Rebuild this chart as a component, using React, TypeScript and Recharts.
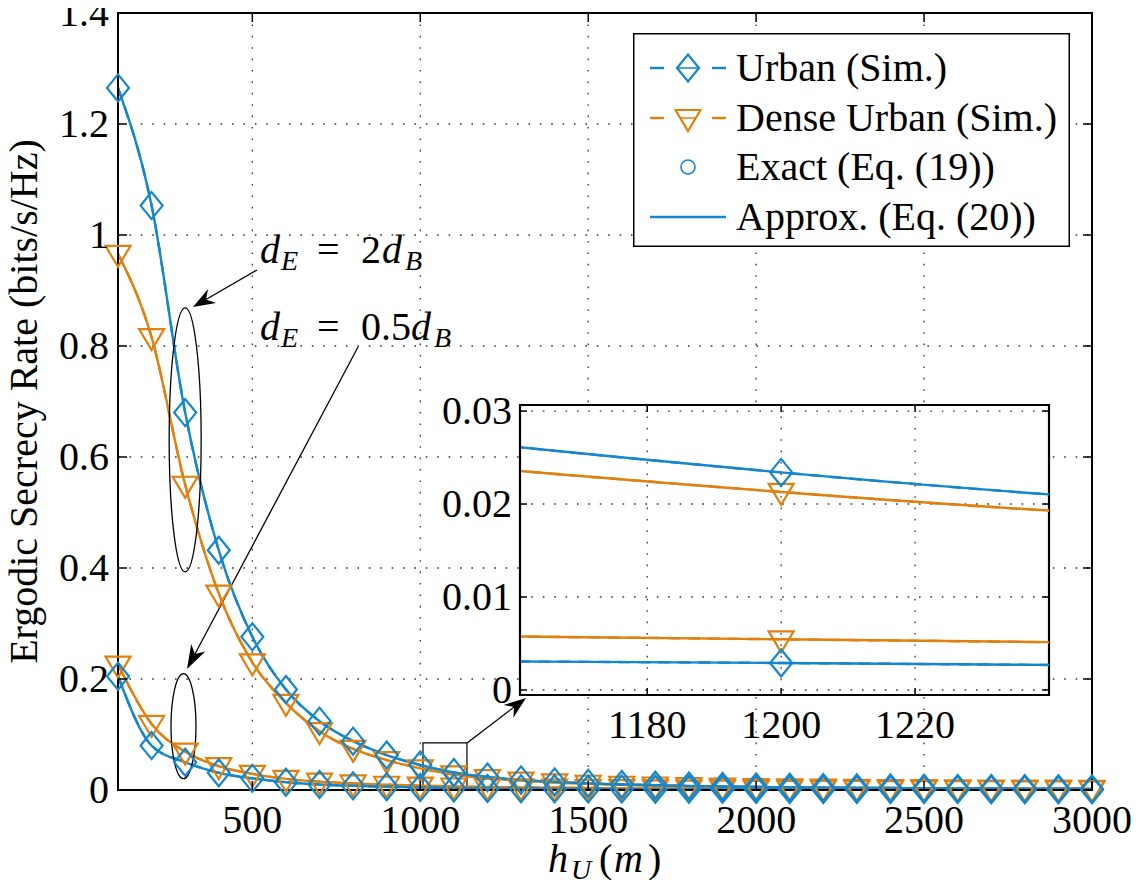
import React from 'react';
import {
  LineChart,
  Line,
  XAxis,
  YAxis,
  CartesianGrid,
  ReferenceArea,
  ReferenceDot,
  Legend,
  Customized,
} from 'recharts';

// ---- data -------------------------------------------------------------
const heights = [
  100, 200, 300, 400, 500, 600, 700, 800, 900, 1000,
  1100, 1200, 1300, 1400, 1500, 1600, 1700, 1800, 1900, 2000,
  2100, 2200, 2300, 2400, 2500, 2600, 2700, 2800, 2900, 3000,
];

// d_E = 2 d_B
const urbanFar = [
  1.265, 1.053, 0.68, 0.432, 0.276, 0.181, 0.124, 0.088, 0.063, 0.045,
  0.0315, 0.0234, 0.0182, 0.0146, 0.012, 0.01, 0.0085, 0.0073, 0.0063, 0.0055,
  0.0049, 0.0043, 0.0039, 0.0035, 0.0032, 0.0029, 0.0027, 0.0025, 0.0023, 0.0021,
];
const denseFar = [
  0.966, 0.816, 0.55, 0.354, 0.23, 0.157, 0.106, 0.074, 0.054, 0.039,
  0.028, 0.0213, 0.0168, 0.0136, 0.0113, 0.0095, 0.0081, 0.007, 0.0061, 0.0054,
  0.0048, 0.0043, 0.0039, 0.0035, 0.0032, 0.0029, 0.0027, 0.0025, 0.0023, 0.0021,
];

// d_E = 0.5 d_B
const urbanNear = [
  0.205, 0.08, 0.05, 0.031, 0.021, 0.014, 0.01, 0.0075, 0.0058, 0.0046,
  0.0034, 0.0029, 0.0024, 0.0021, 0.0018, 0.0016, 0.0014, 0.0013, 0.0012, 0.0011,
  0.001, 0.0009, 0.00085, 0.0008, 0.00075, 0.0007, 0.00065, 0.0006, 0.00057, 0.00054,
];
const denseNear = [
  0.226, 0.119, 0.069, 0.043, 0.029, 0.02, 0.015, 0.0118, 0.0095, 0.0079,
  0.0063, 0.00545, 0.0047, 0.0041, 0.0036, 0.0032, 0.0029, 0.0026, 0.0024, 0.0022,
  0.002, 0.0019, 0.0018, 0.0017, 0.0016, 0.0015, 0.0014, 0.0013, 0.00125, 0.0012,
];

const xTicks = [500, 1000, 1500, 2000, 2500, 3000];
const yTicks = [0, 0.2, 0.4, 0.6, 0.8, 1, 1.2, 1.4];
const yTickLabels = ['0', '0.2', '0.4', '0.6', '0.8', '1', '1.2', '1.4'];

const insetXTicks = [1180, 1200, 1220];
const insetYTicks = [0, 0.01, 0.02, 0.03];
const insetYTickLabels = ['0', '0.01', '0.02', '0.03'];
const insetXDomain = [1161, 1240];
const insetYDomain = [-0.00054, 0.03065];

const legendLabels = ['Urban (Sim.)', 'Dense Urban (Sim.)', 'Exact (Eq. (19))', 'Approx. (Eq. (20))'];

const rows = heights.map((h, i) => ({
  h,
  urbanFar: urbanFar[i],
  denseFar: denseFar[i],
  urbanNear: urbanNear[i],
  denseNear: denseNear[i],
}));

// ---- styling ----------------------------------------------------------
const FONT_CSS = `
@font-face { font-family: 'PlotSerif'; font-style: normal; font-weight: 400;
  src: local('Liberation Serif'), local('LiberationSerif'), local('LiberationSerif-Regular'); }
@font-face { font-family: 'PlotSerif'; font-style: italic; font-weight: 400;
  src: local('Liberation Serif Italic'), local('LiberationSerif-Italic'); }
.plot-root, .plot-root text, .plot-root tspan { font-family: 'Liberation Serif', PlotSerif, Tinos, 'Times New Roman', serif; }
`;
const FONT = "'Liberation Serif', PlotSerif, Tinos, 'Times New Roman', serif";
const FS = 40;
const SUB = 28;
const txt = { fontFamily: FONT, fontSize: FS } as React.CSSProperties;
const BLUE = '#1386cc';
const ORANGE = '#e0800f';
const LINE_W = 2.4;
const MARK_W = 2.2;

// main chart geometry (page pixels)
const W = 1147;
const H = 888;
const MAIN = { left: 118, right: 1092, top: 13, bottom: 790 };
// inset chart geometry (local pixels of the inset svg)
const INSET_POS = { left: 420, top: 380, width: 640, height: 375 };
const INSET = { left: 100, right: 629, top: 25, bottom: 315 };

const DIA_HW = 11;
const DIA_HH = 13.5;
const TRI_HW = 12.5;
const TRI_UP = 8;
const TRI_DOWN = 13;

function diamondPath(cx: number, cy: number) {
  return `M${cx},${cy - DIA_HH} L${cx + DIA_HW},${cy} L${cx},${cy + DIA_HH} L${cx - DIA_HW},${cy} Z`;
}
function trianglePath(cx: number, cy: number) {
  return `M${cx - TRI_HW},${cy - TRI_UP} L${cx + TRI_HW},${cy - TRI_UP} L${cx},${cy + TRI_DOWN} Z`;
}

const renderDiamond = (p: any) => {
  if (p.cx == null || p.cy == null) return <g key={`dd-${p.index}`} />;
  return (
    <path key={`dd-${p.index}`} d={diamondPath(p.cx, p.cy)} fill="none" stroke={BLUE} strokeWidth={MARK_W} />
  );
};
const renderTriangle = (p: any) => {
  if (p.cx == null || p.cy == null) return <g key={`tt-${p.index}`} />;
  return (
    <path key={`tt-${p.index}`} d={trianglePath(p.cx, p.cy)} fill="none" stroke={ORANGE} strokeWidth={MARK_W} />
  );
};

// ---- axis ticks (ticks point inward, on all four sides) ----
const MainXTick = (props: any) => {
  const { x, payload } = props;
  const t = 9;
  return (
    <g>
      <line x1={x} x2={x} y1={MAIN.bottom} y2={MAIN.bottom - t} stroke="#000" strokeWidth={1.5} />
      <line x1={x} x2={x} y1={MAIN.top} y2={MAIN.top + t} stroke="#000" strokeWidth={1.5} />
      <text x={x} y={MAIN.bottom + 43} textAnchor="middle" style={txt} fill="#000">
        {payload.value}
      </text>
    </g>
  );
};

const MainYTick = (props: any) => {
  const { y, payload } = props;
  const t = 9;
  const label = yTickLabels[yTicks.indexOf(payload.value)];
  return (
    <g>
      <line x1={MAIN.left} x2={MAIN.left + t} y1={y} y2={y} stroke="#000" strokeWidth={1.5} />
      <line x1={MAIN.right} x2={MAIN.right - t} y1={y} y2={y} stroke="#000" strokeWidth={1.5} />
      <text x={MAIN.left - 9} y={y + 13} textAnchor="end" style={txt} fill="#000">
        {label}
      </text>
    </g>
  );
};

const InsetXTick = (props: any) => {
  const { x, payload } = props;
  const t = 7;
  return (
    <g>
      <line x1={x} x2={x} y1={INSET.bottom} y2={INSET.bottom - t} stroke="#000" strokeWidth={1.5} />
      <line x1={x} x2={x} y1={INSET.top} y2={INSET.top + t} stroke="#000" strokeWidth={1.5} />
      <text x={x} y={INSET.bottom + 43} textAnchor="middle" style={txt} fill="#000">
        {payload.value}
      </text>
    </g>
  );
};

const InsetYTick = (props: any) => {
  const { y, payload } = props;
  const t = 7;
  const label = insetYTickLabels[insetYTicks.indexOf(payload.value)];
  return (
    <g>
      <line x1={INSET.left} x2={INSET.left + t} y1={y} y2={y} stroke="#000" strokeWidth={1.5} />
      <line x1={INSET.right} x2={INSET.right - t} y1={y} y2={y} stroke="#000" strokeWidth={1.5} />
      <text x={INSET.left - 8} y={y + 13} textAnchor="end" style={txt} fill="#000">
        {label}
      </text>
    </g>
  );
};

// ---- annotations --------------------------------------------------------
function Arrow({ x0, y0, x1, y1, L = 22, Wd = 8 }: any) {
  const dx = x1 - x0;
  const dy = y1 - y0;
  const len = Math.hypot(dx, dy);
  const ux = dx / len;
  const uy = dy / len;
  const nx = -uy;
  const ny = ux;
  const N = 7;
  const bx = x1 - ux * L;
  const by = y1 - uy * L;
  const notchX = x1 - ux * (L - N);
  const notchY = y1 - uy * (L - N);
  const pts = [
    [x1, y1],
    [bx + nx * Wd, by + ny * Wd],
    [notchX, notchY],
    [bx - nx * Wd, by - ny * Wd],
  ]
    .map((p) => p.join(','))
    .join(' ');
  return (
    <g>
      <line x1={x0} y1={y0} x2={notchX} y2={notchY} stroke="#000" strokeWidth={1.3} />
      <polygon points={pts} fill="#000" />
    </g>
  );
}

// one <text> per label; pieces are tspans: [text, dx, italic, subscript]
function MathLabel({ x, y, parts }: any) {
  return (
    <text fill="#000" style={txt}>
      {parts.map((p: any, i: number) => (
        <tspan
          key={i}
          x={x + p[1]}
          y={p[3] ? y + 7 : y}
          style={{ fontSize: p[3] ? SUB : FS, fontStyle: p[2] ? 'italic' : 'normal' }}
        >
          {p[0]}
        </tspan>
      ))}
    </text>
  );
}

const Annotations = () => (
  <g>
    <text
      transform={`translate(37, ${(MAIN.top + MAIN.bottom) / 2}) rotate(-90)`}
      textAnchor="middle"
      style={txt}
      fill="#000"
    >
      Ergodic Secrecy Rate (bits/s/Hz)
    </text>
    <MathLabel
      x={548}
      y={872}
      parts={[
        ['h', 0, true, false],
        ['U', 23, true, true],
        ['(', 51, false, false],
        ['m', 66, true, false],
        [')', 100, false, false],
      ]}
    />
    <MathLabel
      x={260}
      y={263}
      parts={[
        ['d', 0, true, false],
        ['E', 21, true, true],
        ['=', 57, false, false],
        ['2', 101, false, false],
        ['d', 122, true, false],
        ['B', 145, true, true],
      ]}
    />
    <MathLabel
      x={260}
      y={340}
      parts={[
        ['d', 0, true, false],
        ['E', 21, true, true],
        ['=', 57, false, false],
        ['0.5', 101, false, false],
        ['d', 151, true, false],
        ['B', 174, true, true],
      ]}
    />
    <Arrow x0={257} y0={270} x1={193} y1={307} />
    <Arrow x0={358} y0={347} x1={187} y1={669} L={24} />
    <Arrow x0={467} y0={743} x1={526} y1={698} />
  </g>
);

const ellipseShape = (rx: number, ry: number) => (p: any) => (
  <ellipse cx={p.cx} cy={p.cy} rx={rx} ry={ry} fill="none" stroke="#000" strokeWidth={1.3} />
);

// ---- legend -------------------------------------------------------------
const LEG = { left: 633, top: 33, width: 437, height: 214 };
const LegendBox = () => {
  const rowsY = [35, 85, 134, 184];
  const mx = 55;
  return (
    <svg width={LEG.width} height={LEG.height} style={{ display: 'block' }}>
      <rect x={0.75} y={0.75} width={LEG.width - 1.5} height={LEG.height - 1.5} fill="#fff" stroke="#000" strokeWidth={1.5} />
      {/* Urban (Sim.) */}
      <line x1={17} x2={31} y1={rowsY[0]} y2={rowsY[0]} stroke={BLUE} strokeWidth={LINE_W} />
      <line x1={79} x2={93} y1={rowsY[0]} y2={rowsY[0]} stroke={BLUE} strokeWidth={LINE_W} />
      <path d={diamondPath(mx, rowsY[0])} fill="none" stroke={BLUE} strokeWidth={MARK_W} />
      <line x1={mx - DIA_HW} x2={mx + DIA_HW} y1={rowsY[0]} y2={rowsY[0]} stroke={BLUE} strokeWidth={1.5} />
      {/* Dense Urban (Sim.) */}
      <line x1={17} x2={31} y1={rowsY[1]} y2={rowsY[1]} stroke={ORANGE} strokeWidth={LINE_W} />
      <line x1={79} x2={93} y1={rowsY[1]} y2={rowsY[1]} stroke={ORANGE} strokeWidth={LINE_W} />
      <path d={trianglePath(mx, rowsY[1])} fill="none" stroke={ORANGE} strokeWidth={MARK_W} />
      <line x1={mx - 7} x2={mx + 7} y1={rowsY[1]} y2={rowsY[1]} stroke={ORANGE} strokeWidth={1.5} />
      {/* Exact */}
      <circle cx={mx} cy={rowsY[2]} r={7} fill="none" stroke={BLUE} strokeWidth={1.6} />
      {/* Approx */}
      <line x1={17} x2={93} y1={rowsY[3]} y2={rowsY[3]} stroke={BLUE} strokeWidth={LINE_W} />
      {legendLabels.map((t, i) => (
        <text key={t} x={103} y={rowsY[i] + 13} style={txt} fill="#000">
          {t}
        </text>
      ))}
    </svg>
  );
};

// ---- series ------------------------------------------------------------
function seriesLines(prefix: string) {
  return [
    <Line key={`${prefix}-dn-s`} dataKey="denseNear" type="monotone" stroke={ORANGE} strokeWidth={LINE_W} strokeDasharray="12 8" dot={renderTriangle} isAnimationActive={false} />,
    <Line key={`${prefix}-df-s`} dataKey="denseFar" type="monotone" stroke={ORANGE} strokeWidth={LINE_W} strokeDasharray="12 8" dot={renderTriangle} isAnimationActive={false} />,
    <Line key={`${prefix}-dn-a`} dataKey="denseNear" type="monotone" stroke={ORANGE} strokeWidth={LINE_W} dot={false} isAnimationActive={false} />,
    <Line key={`${prefix}-df-a`} dataKey="denseFar" type="monotone" stroke={ORANGE} strokeWidth={LINE_W} dot={false} isAnimationActive={false} />,
    <Line key={`${prefix}-un-s`} dataKey="urbanNear" type="monotone" stroke={BLUE} strokeWidth={LINE_W} strokeDasharray="12 8" dot={renderDiamond} isAnimationActive={false} />,
    <Line key={`${prefix}-uf-s`} dataKey="urbanFar" type="monotone" stroke={BLUE} strokeWidth={LINE_W} strokeDasharray="12 8" dot={renderDiamond} isAnimationActive={false} />,
    <Line key={`${prefix}-un-a`} dataKey="urbanNear" type="monotone" stroke={BLUE} strokeWidth={LINE_W} dot={false} isAnimationActive={false} />,
    <Line key={`${prefix}-uf-a`} dataKey="urbanFar" type="monotone" stroke={BLUE} strokeWidth={LINE_W} dot={false} isAnimationActive={false} />,
  ];
}

export default function App() {
  return (
    <div
      className="plot-root"
      style={{
        position: 'relative',
        margin: -8,
        width: W,
        height: H,
        background: '#fff',
        fontFamily: FONT,
      }}
    >
      <style>{FONT_CSS}</style>
      <LineChart
        width={W}
        height={H}
        data={rows}
        margin={{ top: MAIN.top, right: W - MAIN.right, bottom: 0, left: 0 }}
      >
        <CartesianGrid stroke="#333" strokeWidth={1.3} strokeDasharray="1.6 9.8" />
        <XAxis
          dataKey="h"
          type="number"
          domain={[100, 3000]}
          ticks={xTicks}
          interval={0}
          height={H - MAIN.bottom}
          axisLine={{ stroke: '#000', strokeWidth: 2 }}
          tickLine={false}
          tick={MainXTick}
        />
        <YAxis
          type="number"
          domain={[0, 1.4]}
          ticks={yTicks}
          interval={0}
          width={MAIN.left}
          axisLine={{ stroke: '#000', strokeWidth: 2 }}
          tickLine={false}
          tick={MainYTick}
        />
        <ReferenceArea x1={100} x2={3000} y1={0} y2={1.4} fill="none" stroke="#000" strokeWidth={2} ifOverflow="visible" />
        {seriesLines('main')}
        <ReferenceDot x={300} y={0.631} r={1} ifOverflow="visible" shape={ellipseShape(16, 132)} />
        <ReferenceDot x={295} y={0.115} r={1} ifOverflow="visible" shape={ellipseShape(12.5, 52.5)} />
        <ReferenceArea x1={1008} x2={1139} y1={0} y2={0.085} fill="none" stroke="#000" strokeWidth={1.2} ifOverflow="visible" />
        <Customized component={Annotations} />
        <Legend
          layout="vertical"
          align="center"
          verticalAlign="middle"
          content={LegendBox}
          wrapperStyle={{ left: LEG.left, top: LEG.top, width: LEG.width, height: LEG.height }}
        />
      </LineChart>

      <div style={{ position: 'absolute', left: INSET_POS.left, top: INSET_POS.top }}>
        <LineChart
          width={INSET_POS.width}
          height={INSET_POS.height}
          data={rows}
          margin={{ top: INSET.top, right: INSET_POS.width - INSET.right, bottom: 0, left: 0 }}
        >
          <CartesianGrid fill="#fff" fillOpacity={1} stroke="#333" strokeWidth={1.3} strokeDasharray="1.6 9.8" />
          <XAxis
            dataKey="h"
            type="number"
            domain={insetXDomain}
            allowDataOverflow
            ticks={insetXTicks}
            interval={0}
            height={INSET_POS.height - INSET.bottom}
            axisLine={{ stroke: '#000', strokeWidth: 2 }}
            tickLine={false}
            tick={InsetXTick}
          />
          <YAxis
            type="number"
            domain={insetYDomain}
            allowDataOverflow
            ticks={insetYTicks}
            interval={0}
            width={INSET.left}
            axisLine={{ stroke: '#000', strokeWidth: 2 }}
            tickLine={false}
            tick={InsetYTick}
          />
          {seriesLines('inset')}
          <ReferenceArea
            x1={insetXDomain[0]}
            x2={insetXDomain[1]}
            y1={insetYDomain[0]}
            y2={insetYDomain[1]}
            fill="none"
            stroke="#000"
            strokeWidth={2.2}
            ifOverflow="visible"
          />
        </LineChart>
      </div>
    </div>
  );
}
